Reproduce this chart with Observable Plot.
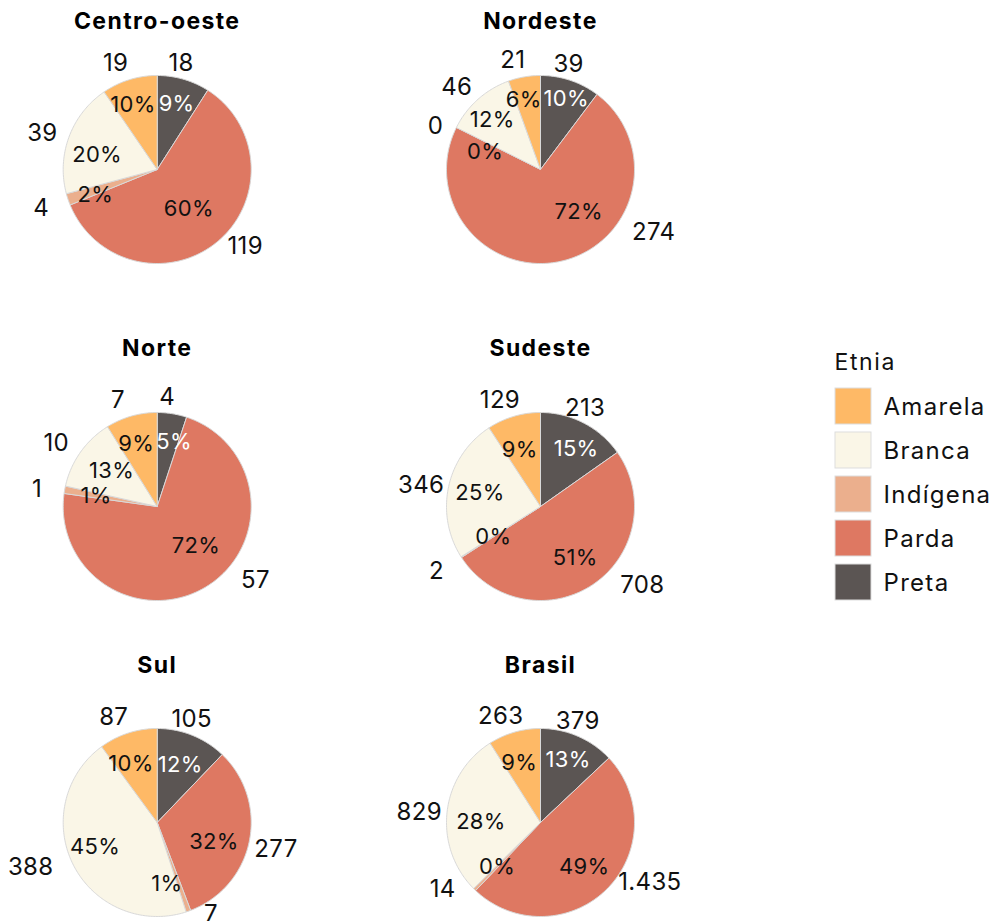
<!DOCTYPE html>
<html><head><meta charset="utf-8">
<script src="https://cdn.jsdelivr.net/npm/d3@7"></script>
<script src="https://cdn.jsdelivr.net/npm/@observablehq/plot@0.6"></script>
<style>
body{margin:0;background:#fff;} #chart svg{display:block;}
</style>
</head><body><div id="chart"></div>
<script>
// ---- data ----
const regions = ["Centro-oeste","Nordeste","Norte","Sudeste","Sul","Brasil"];
const etnias = ["Amarela","Branca","Indígena","Parda","Preta"];
const amarela  = [19, 21, 7, 129, 87, 263];
const branca   = [39, 46, 10, 346, 388, 829];
const indigena = [4, 0, 1, 2, 7, 14];
const parda    = [119, 274, 57, 708, 277, 1435];
const preta    = [18, 39, 4, 213, 105, 379];

// ---- style / layout ----
const colors = ["#FEB966","#FAF6E7","#EBAF8D","#DE7862","#5B5553"];
const W = 993, H = 921;
const colX = [156.7, 540], rowY = [169, 506, 822], titleY = [21, 348, 665];
const R = 94, pctR = 62, cntR = 114;
const cntShift = [-8, 3];
const nudges = {
  "Centro-oeste|Parda": {n:[23,-14], p:[-8,-8]},
  "Centro-oeste|Amarela": {p:[-6,-5]},
  "Centro-oeste|Preta": {p:[2,-6]},
  "Centro-oeste|Branca": {p:[-2,7]},
  "Centro-oeste|Indígena": {p:[-3,6]},
  "Nordeste|Parda": {n:[95,-51], p:[24,-18]},
  "Nordeste|Preta": {p:[6,-12]},
  "Nordeste|Amarela": {p:[-6,-8]},
  "Nordeste|Branca": {p:[-7,-3]},
  "Nordeste|Indígena": {p:[0,10], n:[5,5]},
  "Norte|Parda": {n:[46,-26], p:[6,-13]},
  "Norte|Preta": {p:[7,-3]},
  "Norte|Amarela": {p:[-4,-3]},
  "Norte|Branca": {p:[5,0]},
  "Sudeste|Parda": {n:[46,-19]},
  "Sudeste|Preta": {p:[7,-3]},
  "Sudeste|Amarela": {p:[-3,3]},
  "Sudeste|Indígena": {p:[5,-3]},
  "Sul|Parda": {n:[15,1], p:[-4,7]},
  "Sul|Amarela": {p:[-7,0]},
  "Sul|Indígena": {n:[24,-19], p:[-11,3]},
  "Sul|Branca": {n:[-17,-10], p:[-7,-4]},
  "Brasil|Parda": {n:[37,-24]},
  "Brasil|Amarela": {p:[-4,0]},
  "Brasil|Preta": {p:[3,-6]},
  "Brasil|Branca": {p:[2,6]},
  "Brasil|Indígena": {n:[-10,-17]}
};
const font = "Inter, 'Open Sans', sans-serif";
const fmtN = d3.formatLocale({decimal:",", thousands:".", grouping:[3], currency:["R$",""]}).format(",d");

// ---- build slices ----
const order = ["Preta","Parda","Indígena","Branca","Amarela"]; // clockwise from top
const polys = [], labels = [], titles = [];
regions.forEach((reg, i) => {
  const cx = colX[i % 2], cy = rowY[Math.floor(i / 2)];
  titles.push({reg, x: cx, y: titleY[Math.floor(i / 2)]});
  const vals = {"Amarela": amarela[i], "Branca": branca[i], "Indígena": indigena[i], "Parda": parda[i], "Preta": preta[i]};
  const total = d3.sum(Object.values(vals));
  let cum = 0;
  for (const et of order) {
    const v = vals[et];
    const a0 = cum / total * 2 * Math.PI, a1 = (cum + v) / total * 2 * Math.PI;
    cum += v;
    const key = reg + "|" + et;
    if (v > 0) {
      const n = Math.max(2, Math.ceil((a1 - a0) / (Math.PI / 180)));
      polys.push({key, etnia: et, x: cx, y: cy});
      for (let k = 0; k <= n; k++) {
        const a = a0 + (a1 - a0) * k / n;
        polys.push({key, etnia: et, x: cx + R * Math.sin(a), y: cy - R * Math.cos(a)});
      }
      polys.push({key, etnia: et, x: cx, y: cy});
    }
    const am = (a0 + a1) / 2;
    const nd = nudges[key] || {};
    const p = nd.p || [0,0], q = nd.n || [0,0];
    labels.push({
      etnia: et,
      px: cx + pctR * Math.sin(am) + p[0], py: cy - pctR * Math.cos(am) + p[1],
      nx: cx + cntR * Math.sin(am) + cntShift[0] + q[0], ny: cy - cntR * Math.cos(am) + cntShift[1] + q[1],
      pct: Math.round(v / total * 100) + "%",
      cnt: fmtN(v)
    });
  }
});
const legend = etnias.map((et, i) => ({etnia: et, i}));
const legX = 835, legY = 388, sw = 36, step = 44;

const plot = Plot.plot({
  width: W, height: H,
  marginTop: 0, marginRight: 0, marginBottom: 0, marginLeft: 0,
  x: {domain: [0, W], range: [0, W], axis: null},
  y: {domain: [0, H], range: [0, H], axis: null},
  color: {domain: etnias, range: colors},
  style: {fontFamily: font, background: "white"},
  marks: [
    Plot.line(polys, {x: "x", y: "y", z: "key", fill: "etnia", stroke: "#d9d9d9", strokeWidth: 1, strokeLinejoin: "round"}),
    Plot.text(labels.filter(d => d.etnia !== "Preta"), {x: "px", y: "py", text: "pct", fill: "#111", fontSize: 22}),
    Plot.text(labels.filter(d => d.etnia === "Preta"), {x: "px", y: "py", text: "pct", fill: "white", fontSize: 22}),
    Plot.text(labels, {x: "nx", y: "ny", text: "cnt", fill: "#111", fontSize: 24}),
    Plot.text(titles, {x: "x", y: "y", text: "reg", fontWeight: "bold", fontSize: 23, fill: "#000"}),
    Plot.text(["Etnia"], {x: () => legX - 1, y: () => legY - 26, text: d => d, textAnchor: "start", fontSize: 23, fill: "#111"}),
    Plot.rect(legend, {x1: () => legX, x2: () => legX + sw, y1: d => legY + d.i * step, y2: d => legY + d.i * step + sw, fill: "etnia", stroke: "#dddddd", strokeWidth: 1}),
    Plot.text(legend, {x: () => legX + sw + 12, y: d => legY + d.i * step + sw / 2 + 1, text: "etnia", textAnchor: "start", fontSize: 24, fill: "#111"})
  ]
});
// letter spacing per text mark (order of text marks above)
const spacing = [0.3, 0.3, 0.3, 1.4, 1.6, 1.3];
const textGroups = Array.from(plot.querySelectorAll("g")).filter(g => g.parentNode === plot && g.querySelector(":scope > text"));
textGroups.forEach((g, k) => { if (k < spacing.length) g.setAttribute("letter-spacing", spacing[k] + "px"); });
document.getElementById("chart").appendChild(plot);
</script>
</body></html>
